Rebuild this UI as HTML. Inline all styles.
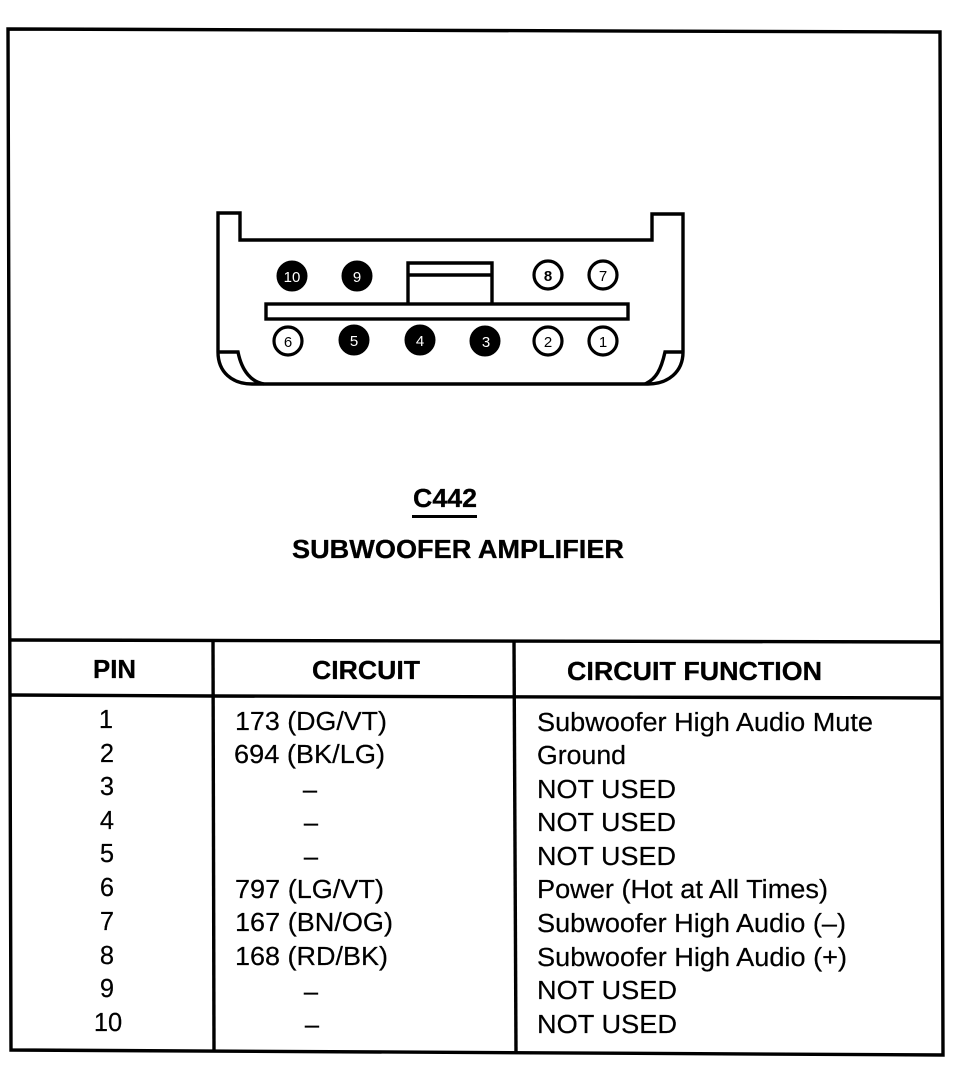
<!DOCTYPE html>
<html>
<head>
<meta charset="utf-8">
<style>
html,body{margin:0;padding:0;background:#fff;}
svg{display:block;}
text{font-family:"Liberation Sans",Arial,sans-serif;fill:#000;}
.b{font-weight:bold;font-size:26px;stroke:#000;stroke-width:.3;}
.r{font-size:25.5px;stroke:#000;stroke-width:.2;}
.m{text-anchor:middle;}
.p{font-size:15px;text-anchor:middle;}
.l{stroke:#000;fill:none;stroke-width:3.4;}
.c{fill:#fff;stroke:#000;stroke-width:3.2;}
.f{fill:#000;stroke:#000;stroke-width:1;}
</style>
</head>
<body>
<svg width="956" height="1072" viewBox="0 0 956 1072" xmlns="http://www.w3.org/2000/svg">
<!-- outer frame -->
<path class="l" d="M8 29 L940 32 L943 1055 L11 1050 Z"/>
<!-- table lines -->
<path class="l" d="M10 640 L943 642"/>
<path class="l" d="M10 695 L213 696 L943 698"/>
<path class="l" d="M213 640 L214 1052"/>
<path class="l" d="M514 641 L516 1053"/>
<!-- connector -->
<path class="l" d="M218 213 L240 213 L240 240 L652 240 L652 214 L683 214 L683 352 C683 372 668 384 648 384 L252 384 C232 384 218 372 218 352 Z"/>
<path class="l" d="M219 352 L238 352 C242 372 252 382 264 384"/>
<path class="l" d="M682 352 L665 352 C661 370 656 379 645 384"/>
<rect x="266" y="304" width="362" height="15" class="l"/>
<path class="l" d="M408 303 L408 263 L492 263 L492 303 M408 275 L492 275"/>
<!-- pins -->
<circle class="f" cx="292" cy="276" r="15"/><text class="p" x="292" y="282" style="fill:#fff">10</text>
<circle class="f" cx="357" cy="276" r="15"/><text class="p" x="357" y="282" style="fill:#fff">9</text>
<circle class="c" cx="548" cy="275" r="14"/><text class="p" style="font-weight:bold" x="548" y="281">8</text>
<circle class="c" cx="603" cy="275" r="14"/><text class="p" x="603" y="281">7</text>
<circle class="c" cx="288" cy="341" r="14"/><text class="p" x="288" y="347">6</text>
<circle class="f" cx="354" cy="340" r="15"/><text class="p" x="354" y="346" style="fill:#fff">5</text>
<circle class="f" cx="420" cy="340" r="15"/><text class="p" x="420" y="346" style="fill:#fff">4</text>
<circle class="f" cx="485" cy="341" r="15"/><text class="p" x="486" y="347" style="fill:#fff">3</text>
<circle class="c" cx="548" cy="341" r="14"/><text class="p" x="548" y="347">2</text>
<circle class="c" cx="603" cy="341" r="14"/><text class="p" x="603" y="347">1</text>
<!-- title -->
<text class="b" x="413" y="507" textLength="64" lengthAdjust="spacingAndGlyphs">C442</text>
<path d="M412 516.5 L477 516.5" stroke="#000" stroke-width="3"/>
<text class="b" x="292" y="558" textLength="332" lengthAdjust="spacingAndGlyphs">SUBWOOFER AMPLIFIER</text>
<!-- header -->
<text class="b" x="93" y="678" textLength="43" lengthAdjust="spacingAndGlyphs">PIN</text>
<text class="b" x="312" y="679" textLength="108" lengthAdjust="spacingAndGlyphs">CIRCUIT</text>
<text class="b" x="567" y="680" textLength="255" lengthAdjust="spacingAndGlyphs">CIRCUIT FUNCTION</text>
<!-- pin column -->
<text class="r m" x="106" y="728">1</text>
<text class="r m" x="107" y="762">2</text>
<text class="r m" x="107" y="795">3</text>
<text class="r m" x="107" y="829">4</text>
<text class="r m" x="107" y="862">5</text>
<text class="r m" x="107" y="896">6</text>
<text class="r m" x="107" y="930">7</text>
<text class="r m" x="107" y="964">8</text>
<text class="r m" x="107" y="997">9</text>
<text class="r m" x="108" y="1031">10</text>
<!-- circuit column -->
<text class="r" x="235" y="730" textLength="152" lengthAdjust="spacingAndGlyphs">173 (DG/VT)</text>
<text class="r" x="234" y="763" textLength="151" lengthAdjust="spacingAndGlyphs">694 (BK/LG)</text>
<text class="r m" x="310" y="798">–</text>
<text class="r m" x="311" y="831">–</text>
<text class="r m" x="311" y="865">–</text>
<text class="r" x="235" y="898" textLength="149" lengthAdjust="spacingAndGlyphs">797 (LG/VT)</text>
<text class="r" x="235" y="931" textLength="158" lengthAdjust="spacingAndGlyphs">167 (BN/OG)</text>
<text class="r" x="235" y="965" textLength="153" lengthAdjust="spacingAndGlyphs">168 (RD/BK)</text>
<text class="r m" x="311" y="1000">–</text>
<text class="r m" x="312" y="1033">–</text>
<!-- function column -->
<text class="r" x="537" y="731" textLength="336" lengthAdjust="spacingAndGlyphs">Subwoofer High Audio Mute</text>
<text class="r" x="537" y="764" textLength="89" lengthAdjust="spacingAndGlyphs">Ground</text>
<text class="r" x="537" y="798" textLength="139" lengthAdjust="spacingAndGlyphs">NOT USED</text>
<text class="r" x="537" y="831" textLength="139" lengthAdjust="spacingAndGlyphs">NOT USED</text>
<text class="r" x="537" y="865" textLength="139" lengthAdjust="spacingAndGlyphs">NOT USED</text>
<text class="r" x="537" y="898" textLength="291" lengthAdjust="spacingAndGlyphs">Power (Hot at All Times)</text>
<text class="r" x="537" y="932" textLength="309" lengthAdjust="spacingAndGlyphs">Subwoofer High Audio (–)</text>
<text class="r" x="537" y="966" textLength="310" lengthAdjust="spacingAndGlyphs">Subwoofer High Audio (+)</text>
<text class="r" x="537" y="999" textLength="140" lengthAdjust="spacingAndGlyphs">NOT USED</text>
<text class="r" x="537" y="1033" textLength="140" lengthAdjust="spacingAndGlyphs">NOT USED</text>
</svg>
</body>
</html>
